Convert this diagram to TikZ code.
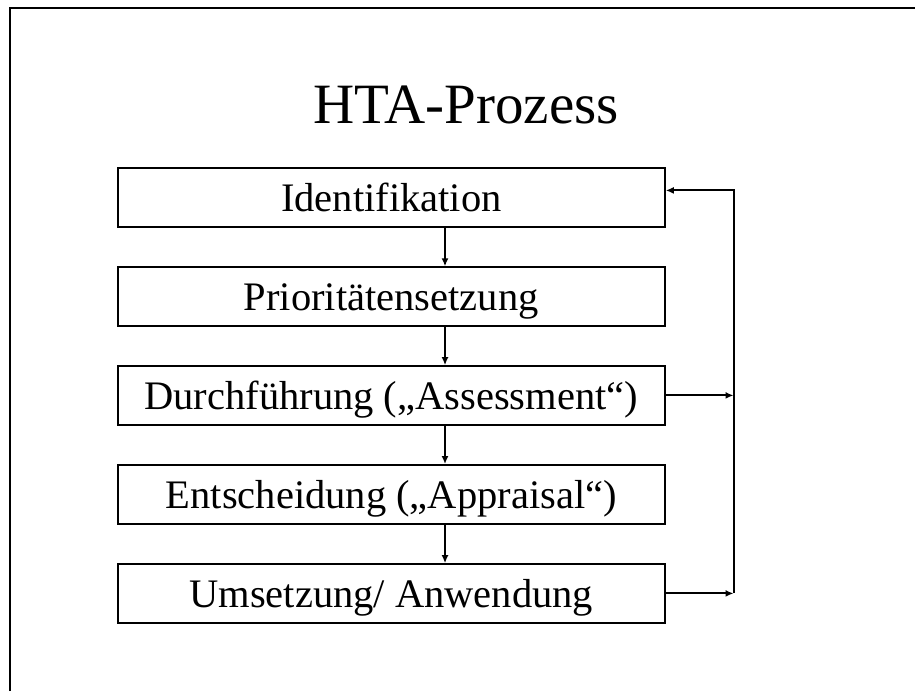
\documentclass[tikz,border=0pt]{standalone}
\usepackage{fontspec}
\setmainfont{Liberation Serif}
\usetikzlibrary{arrows.meta}
\begin{document}
\begin{tikzpicture}[x=1pt,y=-1pt,
  stepbox/.style={draw,line width=2pt,minimum width=547pt,minimum height=58.5pt,
    inner sep=0pt,text height=34pt,text depth=6pt,
    font=\fontsize{40.5}{46}\selectfont},
  arr/.style={line width=2pt,-{Latex[length=8pt,width=7pt]}}]
  \useasboundingbox (0,0) rectangle (915,691);
  % slide frame (open to the right and bottom)
  \draw[line width=2pt] (10,691) -- (10,8) -- (915,8);
  % title
  \node[anchor=base,font=\fontsize{57}{64}\selectfont] (title) at (466,123) {HTA-Prozess};
  % process steps
  \node[stepbox] (b1) at (391.3,197.7) {Identifikation};
  \node[stepbox] (b2) at (391.3,296.6) {Prioritätensetzung};
  \node[stepbox] (b3) at (391.3,395.4) {Durchführung („Assessment“)};
  \node[stepbox] (b4) at (391.3,494.3) {Entscheidung („Appraisal“)};
  \node[stepbox] (b5) at (391.3,593.4) {Umsetzung/ Anwendung};
  % downward flow
  \coordinate (ax) at (445,0);
  \draw[arr] (b1.south -| ax) -- (b2.north -| ax);
  \draw[arr] (b2.south -| ax) -- (b3.north -| ax);
  \draw[arr] (b3.south -| ax) -- (b4.north -| ax);
  \draw[arr] (b4.south -| ax) -- (b5.north -| ax);
  % feedback loop on the right
  \coordinate (rt) at (733.5,190.4);
  \draw[arr] (b3.east) -- (b3.east -| rt);
  \draw[arr] (b5.east) -- (b5.east -| rt);
  \draw[arr,line join=miter] (b5.east -| rt) -- (rt) -- (b1.east |- rt);
\end{tikzpicture}
\end{document}
